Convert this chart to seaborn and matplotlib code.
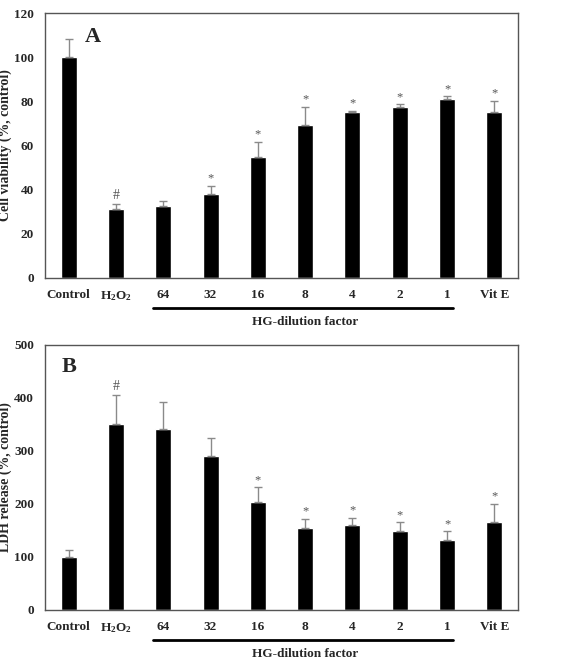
import numpy as np
import pandas as pd
import matplotlib
matplotlib.use("Agg")
import matplotlib.pyplot as plt
import matplotlib.transforms as mtransforms
import seaborn as sns

categories = ["Control", "H$_2$O$_2$", "64", "32", "16", "8", "4", "2", "1", "Vit E"]
viability = [100, 31.2, 32.8, 38.2, 54.7, 69.3, 75.0, 77.3, 80.9, 75.3]
viability_err = [8, 2.5, 2, 3.5, 7, 8.3, 0.7, 1.4, 1.4, 5]
viability_marks = ["", "#", "", "*", "*", "*", "*", "*", "*", "*"]
ldh = [99, 350, 342, 291, 203, 155, 160, 148, 131, 165]
ldh_err = [15, 56, 50, 34, 28, 16, 13, 17, 17, 35]
ldh_marks = ["", "#", "", "", "*", "*", "*", "*", "*", "*"]

sns.set_style("white")
plt.rcParams["font.family"] = ["Liberation Serif", "DejaVu Serif"]
plt.rcParams["font.weight"] = "bold"
plt.rcParams["mathtext.fontset"] = "custom"
plt.rcParams["mathtext.rm"] = "Liberation Serif:bold"
plt.rcParams["mathtext.it"] = "Liberation Serif:bold"
plt.rcParams["mathtext.bf"] = "Liberation Serif:bold"

fig = plt.figure(figsize=(5.64, 6.61), dpi=100)
W, H = 564, 661
axA = fig.add_axes([45 / W, 1 - 278 / H, 473 / W, 265 / H])
axB = fig.add_axes([45 / W, 1 - 610 / H, 473 / W, 265.3 / H])


def panel(ax, vals, errs, marks, ymax, ystep, ylabel, letter, letter_xy, mark_off):
    df = pd.DataFrame({"cat": categories, "val": vals})
    sns.barplot(data=df, x="cat", y="val", color="black", width=0.34,
                saturation=1, ax=ax, errorbar=None)
    x = np.arange(len(categories))
    ax.errorbar(x, vals, yerr=[np.zeros(len(vals)), errs], fmt="none",
                ecolor="#8a8a8a", elinewidth=1.0, capsize=3, capthick=1.0)
    for xi, v, e, m in zip(x, vals, errs, marks):
        if m:
            ax.text(xi, v + e + mark_off, m, ha="center", va="bottom",
                    fontsize=9 if m == "*" else 10, color="#555555",
                    fontweight="normal")
    ax.set_xlim(-0.5, len(categories) - 0.5)
    ax.set_ylim(0, ymax)
    ax.set_yticks(np.arange(0, ymax + 1, ystep))
    ax.set_xlabel("")
    ax.set_ylabel(ylabel, fontsize=10, fontweight="bold", va="center")
    ax.yaxis.set_label_coords(-0.083, 0.5)
    ax.tick_params(axis="both", length=0, labelsize=9.5, pad=8)
    for lab in ax.get_xticklabels() + ax.get_yticklabels():
        lab.set_fontweight("bold")
    for sp in ax.spines.values():
        sp.set_visible(True)
        sp.set_color("#555555")
        sp.set_linewidth(1.0)
    ax.text(letter_xy[0], letter_xy[1], letter, transform=ax.transAxes,
            fontsize=16, fontweight="bold", ha="center", va="center")
    trans = mtransforms.blended_transform_factory(ax.transData, ax.transAxes)
    ax.plot([1.78, 8.13], [-0.113, -0.113], color="black", lw=2,
            transform=trans, clip_on=False)
    ax.text(5.0, -0.165, "HG-dilution factor", transform=trans, ha="center",
            va="center", fontsize=9.5, fontweight="bold")


panel(axA, viability, viability_err, viability_marks, 120, 20,
      "Cell viability (%, control)", "A", (0.102, 0.91), 0.5)
panel(axB, ldh, ldh_err, ldh_marks, 500, 100,
      "LDH release (%, control)", "B", (0.051, 0.915), 3)

fig.savefig("out.png", dpi=100)
